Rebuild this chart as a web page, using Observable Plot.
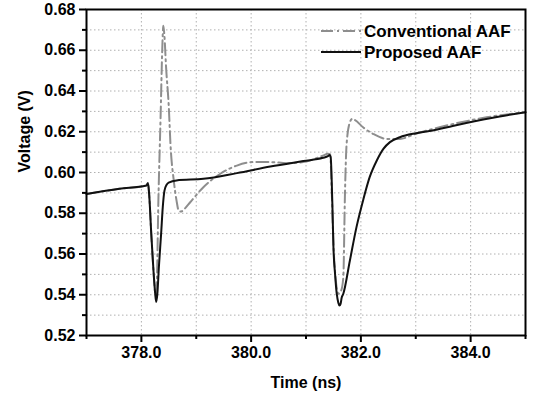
<!DOCTYPE html>
<html>
<head>
<meta charset="utf-8">
<script src="https://cdn.jsdelivr.net/npm/d3@7"></script>
<script src="https://cdn.jsdelivr.net/npm/@observablehq/plot@0.6"></script>
<style>
  html, body { margin: 0; padding: 0; background: #fff; }
  svg text { font-weight: bold; }
</style>
</head>
<body>
<div id="chart"></div>
<script>
// ---- Data ----
const seriesNames = ["Conventional AAF", "Proposed AAF"];

const timeProposed = [377.00, 377.60, 378.09, 378.12, 378.14, 378.18, 378.22, 378.25, 378.27, 378.29, 378.32, 378.36, 378.39, 378.42, 378.46, 378.51, 378.64, 379.13, 379.74, 380.35, 380.95, 381.31, 381.40, 381.43, 381.45, 381.48, 381.50, 381.53, 381.56, 381.59, 381.61, 381.63, 381.65, 381.68, 381.80, 381.92, 382.04, 382.16, 382.29, 382.41, 382.53, 382.71, 383.01, 383.31, 383.62, 383.92, 384.23, 384.53, 385.00];
const voltProposed = [0.5895, 0.5920, 0.5936, 0.5948, 0.5900, 0.5700, 0.5520, 0.5410, 0.5365, 0.5400, 0.5540, 0.5700, 0.5830, 0.5910, 0.5940, 0.5952, 0.5961, 0.5969, 0.5997, 0.6029, 0.6056, 0.6072, 0.6080, 0.6086, 0.6075, 0.5850, 0.5633, 0.5500, 0.5405, 0.5360, 0.5347, 0.5355, 0.5385, 0.5405, 0.5568, 0.5732, 0.5863, 0.5977, 0.6059, 0.6116, 0.6149, 0.6173, 0.6193, 0.6206, 0.6225, 0.6243, 0.6260, 0.6275, 0.6296];

const timeConventional = [377.00, 377.60, 378.09, 378.12, 378.14, 378.18, 378.22, 378.26, 378.28, 378.31, 378.35, 378.38, 378.40, 378.42, 378.45, 378.50, 378.53, 378.59, 378.64, 378.68, 378.72, 378.78, 378.89, 379.13, 379.44, 379.74, 380.04, 380.35, 380.65, 380.95, 381.31, 381.40, 381.44, 381.47, 381.50, 381.54, 381.59, 381.64, 381.68, 381.71, 381.74, 381.80, 381.84, 381.89, 382.04, 382.22, 382.47, 382.71, 383.00, 383.31, 383.92, 384.29, 385.00];
const voltConventional = [0.5895, 0.5920, 0.5936, 0.5948, 0.5900, 0.5700, 0.5520, 0.5400, 0.5450, 0.5863, 0.6271, 0.6600, 0.6720, 0.6670, 0.6517, 0.6320, 0.6140, 0.5961, 0.5863, 0.5813, 0.5808, 0.5820, 0.5854, 0.5928, 0.5994, 0.6034, 0.6051, 0.6051, 0.6046, 0.6051, 0.6083, 0.6092, 0.6090, 0.5900, 0.5650, 0.5480, 0.5405, 0.5420, 0.5486, 0.5895, 0.6140, 0.6247, 0.6263, 0.6258, 0.6222, 0.6190, 0.6165, 0.6165, 0.6190, 0.6214, 0.6252, 0.6271, 0.6296];

const xMajorTicks = [378, 380, 382, 384];
const xMinorTicks = [377, 379, 381, 383, 385];
const xGridTicks = [378, 379, 380, 381, 382, 383, 384];
const yMajorTicks = [0.52, 0.54, 0.56, 0.58, 0.60, 0.62, 0.64, 0.66, 0.68];
const yMinorTicks = [0.53, 0.55, 0.57, 0.59, 0.61, 0.63, 0.65, 0.67];
const yGridTicks = [0.53, 0.54, 0.55, 0.56, 0.57, 0.58, 0.59, 0.60, 0.61, 0.62, 0.63, 0.64, 0.65, 0.66, 0.67];

const xTitle = "Time (ns)";
const yTitle = "Voltage (V)";

// ---- Build tables ----
const proposed = timeProposed.map((t, i) => ({t, v: voltProposed[i]}));
const conventional = timeConventional.map((t, i) => ({t, v: voltConventional[i]}));

const styles = [
  {stroke: "#8e8e8e", dash: "12,4,2,4"},
  {stroke: "#111111", dash: null}
];

function legendMark(index, scales, values, dimensions) {
  const g = d3.create("svg:g");
  seriesNames.forEach((name, i) => {
    const y = 31 + 21 * i;
    const line = g.append("line")
      .attr("x1", 321).attr("x2", 361).attr("y1", y).attr("y2", y)
      .attr("stroke", styles[i].stroke).attr("stroke-width", 2);
    if (styles[i].dash) line.attr("stroke-dasharray", styles[i].dash);
    g.append("text")
      .attr("x", 364).attr("y", y).attr("dy", "0.35em")
      .attr("text-anchor", "start")
      .attr("font-size", 17).attr("font-weight", "bold")
      .attr("fill", "#000")
      .text(name);
  });
  return g.node();
}

const chart = Plot.plot({
  width: 538,
  height: 401,
  marginLeft: 86,
  marginRight: 13,
  marginTop: 9,
  marginBottom: 66,
  style: {fontFamily: "'Liberation Sans', Arial, sans-serif", background: "#fff", color: "#000"},
  x: {domain: [377, 385]},
  y: {domain: [0.52, 0.68]},
  marks: [
    Plot.gridX(xGridTicks, {stroke: "#b0b0b0", strokeOpacity: 1, strokeDasharray: "1.5,2.5", strokeWidth: 1}),
    Plot.gridY(yGridTicks, {stroke: "#b0b0b0", strokeOpacity: 1, strokeDasharray: "1.5,2.5", strokeWidth: 1}),
    Plot.line(conventional, {x: "t", y: "v", stroke: styles[0].stroke, strokeWidth: 2, strokeDasharray: styles[0].dash, curve: "monotone-x"}),
    Plot.line(proposed, {x: "t", y: "v", stroke: styles[1].stroke, strokeWidth: 2, curve: "monotone-x"}),
    Plot.axisX(xMajorTicks, {tickSize: 7, tickPadding: 4, tickFormat: d3.format(".1f"), fontSize: 16, fontWeight: "bold", strokeWidth: 2, label: null}),
    Plot.axisX(xMinorTicks, {tickSize: 4, tickFormat: () => "", strokeWidth: 2, label: null}),
    Plot.axisY(yMajorTicks, {tickSize: 7, tickPadding: 4, tickFormat: d3.format(".2f"), fontSize: 16, fontWeight: "bold", strokeWidth: 2, label: null}),
    Plot.axisY(yMinorTicks, {tickSize: 4, tickFormat: () => "", strokeWidth: 2, label: null}),
    Plot.frame({stroke: "#000", strokeWidth: 2}),
    Plot.text([xTitle], {frameAnchor: "bottom", dy: 47, text: d => d, fontSize: 16, fontWeight: "bold", lineAnchor: "middle"}),
    Plot.text([yTitle], {frameAnchor: "left", dx: -62, rotate: -90, text: d => d, fontSize: 16, fontWeight: "bold", lineAnchor: "middle"}),
    legendMark
  ]
});

document.getElementById("chart").appendChild(chart);
</script>
</body>
</html>
